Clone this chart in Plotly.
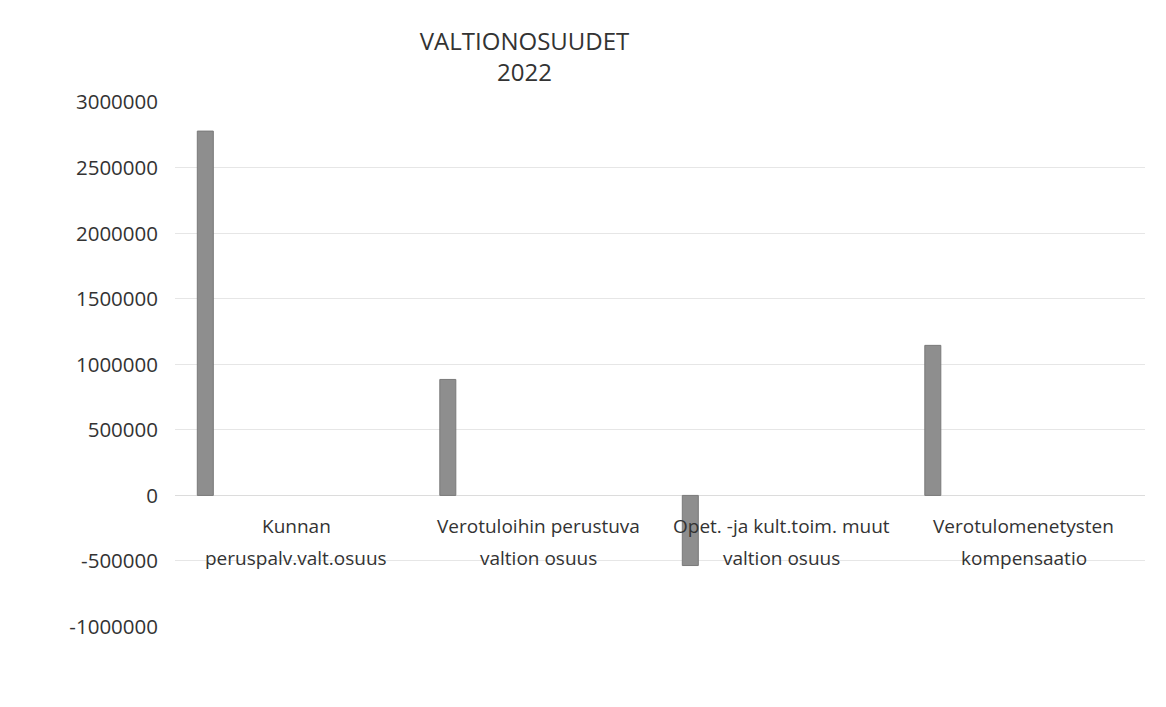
import plotly.graph_objects as go

categories = ["Kunnan<br>peruspalv.valt.osuus",
              "Verotuloihin perustuva<br>valtion osuus",
              "Opet. -ja kult.toim. muut<br>valtion osuus",
              "Verotulomenetysten<br>kompensaatio"]
values = [2780000, 885000, -535000, 1145000]
tick_vals = [-1000000, -500000, 0, 500000, 1000000, 1500000, 2000000, 2500000, 3000000]
tick_text = ["-1000000", "-500000", "0", "500000", "1000000", "1500000", "2000000", "2500000", "3000000"]

FONT = "Open Sans, Calibri, Liberation Sans, sans-serif"
xpos = list(range(len(categories)))

fig = go.Figure()
fig.add_trace(go.Bar(
    x=xpos, y=values, width=0.066, offset=-0.408,
    marker=dict(color="#8e8e8e", line=dict(color="#7a7a7a", width=1)),
    showlegend=False,
))

for i, c in enumerate(categories):
    for j, line in enumerate(c.split("<br>")):
        fig.add_annotation(x=i, y=0, xref="x", yref="y", text=line, showarrow=False,
                           yanchor="middle", yshift=-31 - 32 * j, align="center",
                           font=dict(family=FONT, size=19, color="#333333"))

fig.update_layout(
    width=1166, height=707,
    paper_bgcolor="white", plot_bgcolor="white",
    margin=dict(l=167, r=29, t=94, b=88, autoexpand=False),
    title=dict(text="VALTIONOSUUDET<br>2022", x=0.443, xref="container", xanchor="center",
               y=0.941, yanchor="top", font=dict(family=FONT, size=24, color="#333333")),
    xaxis=dict(range=[-0.5, 3.5], showticklabels=False, showgrid=False, zeroline=False,
               showline=False, ticks="", automargin=False),
    yaxis=dict(range=[-1004000, 3002000], tickvals=tick_vals, ticktext=tick_text,
               showgrid=True, gridcolor="#e6e6e6", gridwidth=1,
               zeroline=True, zerolinecolor="#dcdcdc", zerolinewidth=1, automargin=False,
               tickfont=dict(family=FONT, size=20.5, color="#333333"), ticklabelstandoff=16),
)

fig.write_html("out.html")
